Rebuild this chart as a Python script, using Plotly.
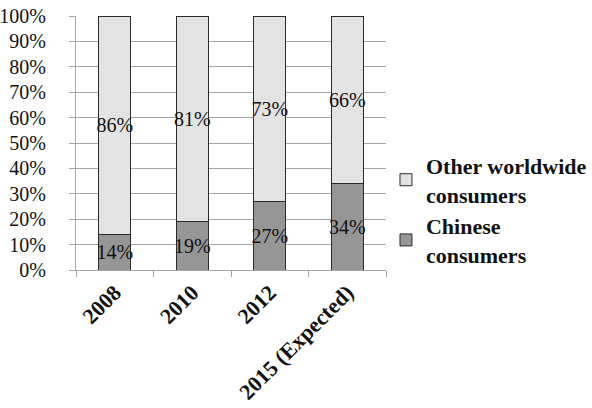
import plotly.graph_objects as go

categories = ["2008", "2010", "2012", "2015 (Expected)"]
chinese = [14, 19, 27, 34]
other = [86, 81, 73, 66]
y_ticks = [0, 10, 20, 30, 40, 50, 60, 70, 80, 90, 100]

FONT = "Liberation Serif, Times New Roman, serif"
INK = "#111111"

fig = go.Figure()
for name, vals, color in [
    ("<b>Chinese<br>consumers</b>", chinese, "#969696"),
    ("<b>Other worldwide<br>consumers</b>", other, "#e3e3e3"),
]:
    fig.add_trace(go.Bar(
        x=categories, y=vals, name=name,
        marker=dict(color=color, line=dict(color="#2b2b2b", width=1)),
        text=[f"{v}%" for v in vals], textposition="inside",
        insidetextanchor="middle", constraintext="none", textangle=0,
        textfont=dict(family=FONT, size=20, color=INK),
        width=0.41,
    ))

fig.update_layout(
    barmode="stack",
    width=592, height=408,
    margin=dict(l=76, r=206, t=16, b=138, autoexpand=False),
    paper_bgcolor="white", plot_bgcolor="white",
    font=dict(family=FONT, size=18, color=INK),
    showlegend=True,
    legend=dict(
        xref="container", yref="container",
        x=0.652, xanchor="left", y=0.485, yanchor="middle",
        traceorder="reversed",
        font=dict(family=FONT, size=22, color=INK),
        itemwidth=30, tracegroupgap=0,
        bgcolor="rgba(0,0,0,0)",
    ),
    xaxis=dict(
        tickangle=-45, tickfont=dict(family=FONT, size=22, color=INK),
        tickprefix="<b>", ticksuffix="</b>",
        showline=True, linecolor="#a6a6a6", linewidth=1,
        ticks="outside", tickson="boundaries", ticklen=6, tickcolor="#a6a6a6",
        showgrid=False, automargin=False,
    ),
    yaxis=dict(
        range=[0, 100], tickvals=y_ticks,
        ticktext=[f"{v}%" for v in y_ticks],
        tickfont=dict(family=FONT, size=20, color=INK),
        showline=True, linecolor="#a6a6a6", linewidth=1,
        ticks="outside", ticklen=6, tickcolor="#a6a6a6",
        showgrid=True, gridcolor="#a6a6a6", gridwidth=1,
        zeroline=False, ticklabelstandoff=19, automargin=False,
    ),
)

fig.write_html("out.html")
